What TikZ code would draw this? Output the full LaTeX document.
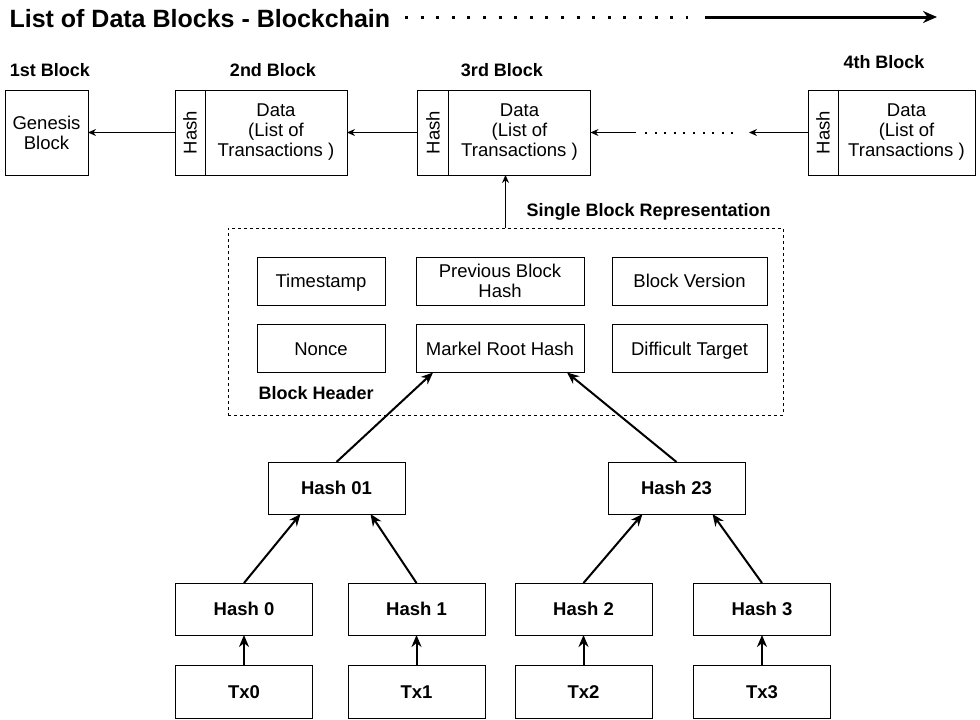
\documentclass[tikz,border=0pt]{standalone}
\usepackage{fontspec}
\usepackage{graphicx}
\setmainfont{Liberation Sans}
\usetikzlibrary{arrows.meta,calc,positioning}
\tikzset{
    box/.style={draw, line width=1pt, outer sep=0pt, inner sep=2pt, align=center, font=\fontsize{18.5}{20}\selectfont},
    oneline/.style={text height=13pt, text depth=0pt},
    leaf/.style={box, oneline, minimum width=137pt, minimum height=52pt, font=\fontsize{18.5}{20}\selectfont\bfseries},
    field/.style={box, minimum height=48pt},
    hashcol/.style={box, minimum width=30pt, minimum height=85pt},
    datacol/.style={box, minimum width=142pt, minimum height=85pt},
    lbl/.style={font=\fontsize{18}{20}\selectfont\bfseries},
    merkle/.style={line width=2pt, -{Stealth[length=12pt,width=10pt]}},
    chain/.style={line width=1pt, -{Stealth[length=8pt,width=7pt]}},
}
\begin{document}
\begin{tikzpicture}[x=1pt,y=-1pt]
                \useasboundingbox (0,0) rectangle (980,720);
                \node[anchor=west, font=\fontsize{25}{28}\selectfont\bfseries] (title) at (6,19) {List of Data Blocks - Blockchain};
                \coordinate (dotsA) at (405,17);
                \coordinate (dotsB) at (688,17);
                \coordinate (arrA) at (705,17);
                \coordinate (arrB) at (937,17);
                \draw[line width=3pt, dash pattern=on 3pt off 12.6pt] (dotsA) -- (dotsB);
                \draw[line width=3pt, -{Stealth[length=14pt,width=12pt]}] (arrA) -- (arrB);

                \node[box, minimum width=83pt, minimum height=85pt] (genesis) at (46.5,132.5) {Genesis\\Block};
                \node[hashcol] (hash2) at (190,132.5) {\rotatebox{90}{Hash}};
                \node[datacol, right=0pt of hash2] (data2) {Data\\(List of\\Transactions )};
                \node[hashcol, minimum width=31pt] (hash3) at (433,132.5) {\rotatebox{90}{Hash}};
                \node[datacol, right=0pt of hash3] (data3) {Data\\(List of\\Transactions )};
                \node[hashcol] (hash4) at (823,132.5) {\rotatebox{90}{Hash}};
                \node[datacol, minimum width=137pt, right=0pt of hash4] (data4) {Data\\(List of\\Transactions )};
                \node[lbl] (lbl1) at (50,70) {1st Block};
                \node[lbl] (lbl2) at (273,70) {2nd Block};
                \node[lbl] (lbl3) at (502,70) {3rd Block};
                \node[lbl] (lbl4) at (884,62) {4th Block};
                \draw[chain] (hash2.west) -- (genesis.east);
                \draw[chain] (hash3.west) -- (data2.east);
                \coordinate (gapR) at (749,132.5);
                \coordinate (gapL) at (636,132.5);
                \draw[chain] (hash4.west) -- (gapR);
                \draw[line width=2pt, dash pattern=on 2pt off 7.6pt] ($(gapL)+(9,0)$) -- ($(gapR)+(-16,0)$);
                \draw[chain] (gapL) -- (data3.east);

                \node[draw, line width=1pt, dash pattern=on 3pt off 3pt, minimum width=555pt, minimum height=187pt] (hdr) at (505.5,321.5) {};
                \node[lbl, anchor=west] (single) at (523,212) {Single Block Representation};
                \node[lbl, anchor=west] (header) at (255,393) {Block Header};
                \draw[chain] (hdr.north) -- (hdr.north |- data3.south);
                \node[field, oneline, minimum width=128pt] (stamp) at (321,281) {Timestamp};
                \node[field, minimum width=168pt] (prev) at (500,281) {Previous Block\\Hash};
                \node[field, oneline, minimum width=155pt] (version) at (689.5,281) {Block Version};
                \node[field, oneline, minimum width=128pt] (nonce) at (321,348.5) {Nonce};
                \node[field, oneline, minimum width=168pt] (root) at (500,348.5) {Markel Root Hash};
                \node[field, oneline, minimum width=155pt] (target) at (689.5,348.5) {Difficult Target};

                \node[leaf] (h01) at (336.5,488) {Hash 01};
                \node[leaf] (h23) at (676.5,488) {Hash 23};
                \draw[merkle] (h01.north) -- ($(root.south)+(-67,0)$);
                \draw[merkle] (h23.north) -- ($(root.south)+(67,0)$);
                \foreach \x [count=\i from 0] in {244,416.5,583.5,762} {
                    \node[leaf] (h\i) at (\x,609) {Hash \i};
                    \node[leaf, minimum height=53pt] (tx\i) at (\x,691.5) {Tx\i};
                    \draw[merkle] (tx\i) -- (h\i);
                }
                \draw[merkle] (h0.north) -- ($(h01.south)+(-36,0)$);
                \draw[merkle] (h1.north) -- ($(h01.south)+(34,0)$);
                \draw[merkle] (h2.north) -- ($(h23.south)+(-34,0)$);
                \draw[merkle] (h3.north) -- ($(h23.south)+(36,0)$);
            \end{tikzpicture}
\end{document}
